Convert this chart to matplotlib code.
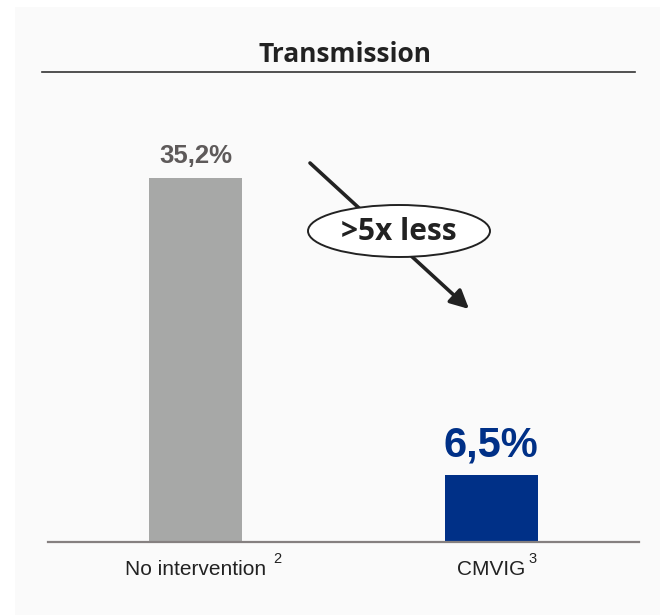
import matplotlib.pyplot as plt
from matplotlib.patches import Ellipse, FancyArrowPatch, Rectangle

# Data
categories = ['No intervention', 'CMVIG']
footnotes = ['2', '3']
values = [35.2, 6.5]
bar_colors = ['#a7a8a7', '#003087']
label_colors = ['#5e5a5a', '#003087']
label_sizes = [18.5, 30]
title = 'Transmission'
callout = '>5x less'

W, H = 660, 615
fig = plt.figure(figsize=(W / 100, H / 100), dpi=100)
fig.patch.set_facecolor('white')

# helpers: pixel -> figure fraction
def fx(px):
    return px / W

def fy(py):
    return 1 - py / H

# light panel behind the chart
fig.add_artist(Rectangle((fx(15), 0), 1 - fx(15), fy(7), transform=fig.transFigure,
                         facecolor='#fafafa', edgecolor='none', zorder=0))

ax = fig.add_axes([fx(48), fy(542), fx(639) - fx(48), fy(7) - fy(542)])
ax.set_facecolor('none')

x = list(range(len(categories)))
bars = ax.bar(x, values, width=0.314, color=bar_colors, zorder=2)
ax.set_xlim(-0.5, 1.5)
ax.set_ylim(0, 51.7)

for b, v, c, s in zip(bars, values, label_colors, label_sizes):
    ax.annotate(f'{v:.1f}%'.replace('.', ','), (b.get_x() + b.get_width() / 2, v),
                xytext=(0, 7), textcoords='offset points', ha='center', va='bottom',
                fontsize=s, fontweight='bold', color=c, family='Liberation Sans')

# category labels with footnote superscripts
sup_gap = [5, 2]
for xi, cat, note, g in zip(x, categories, footnotes, sup_gap):
    lab = ax.annotate(cat, (xi, 0), xytext=(0, -24), textcoords='offset points',
                      ha='center', va='baseline', fontsize=15, family='Liberation Sans',
                      color='#222222', annotation_clip=False)
    ax.annotate(note, (1, 0), xycoords=lab, xytext=(g, 11.8), textcoords='offset points',
                ha='left', va='baseline', fontsize=10.5, family='Liberation Sans',
                color='#222222', annotation_clip=False)

ax.set_xticks([])
ax.set_yticks([])
for sp in ['top', 'right', 'left']:
    ax.spines[sp].set_visible(False)
ax.spines['bottom'].set_color('#858080')
ax.spines['bottom'].set_linewidth(1.6)

# title and rule
fig.text(fx(345), fy(55), title, ha='center', va='center', fontsize=19,
         fontweight='bold', family='Open Sans', color='#222222')
fig.add_artist(plt.Line2D([fx(42), fx(635)], [fy(72), fy(72)], transform=fig.transFigure,
                          color='#333333', lw=1.2))

# arrow and callout
fig.add_artist(FancyArrowPatch((fx(310), fy(163)), (fx(469), fy(309)), transform=fig.transFigure,
                               arrowstyle='-|>', mutation_scale=28, lw=2.6, color='#222222',
                               shrinkA=0, shrinkB=0, zorder=3))
fig.add_artist(Ellipse((fx(399), fy(231)), fx(182), 52 / H, transform=fig.transFigure,
                       facecolor='white', edgecolor='#222222', lw=1.4, zorder=4))
fig.text(fx(399), fy(232), callout, ha='center', va='center', fontsize=21.5,
         fontweight='bold', family='Open Sans', color='#222222', zorder=5)

fig.savefig('out.png', dpi=100)
